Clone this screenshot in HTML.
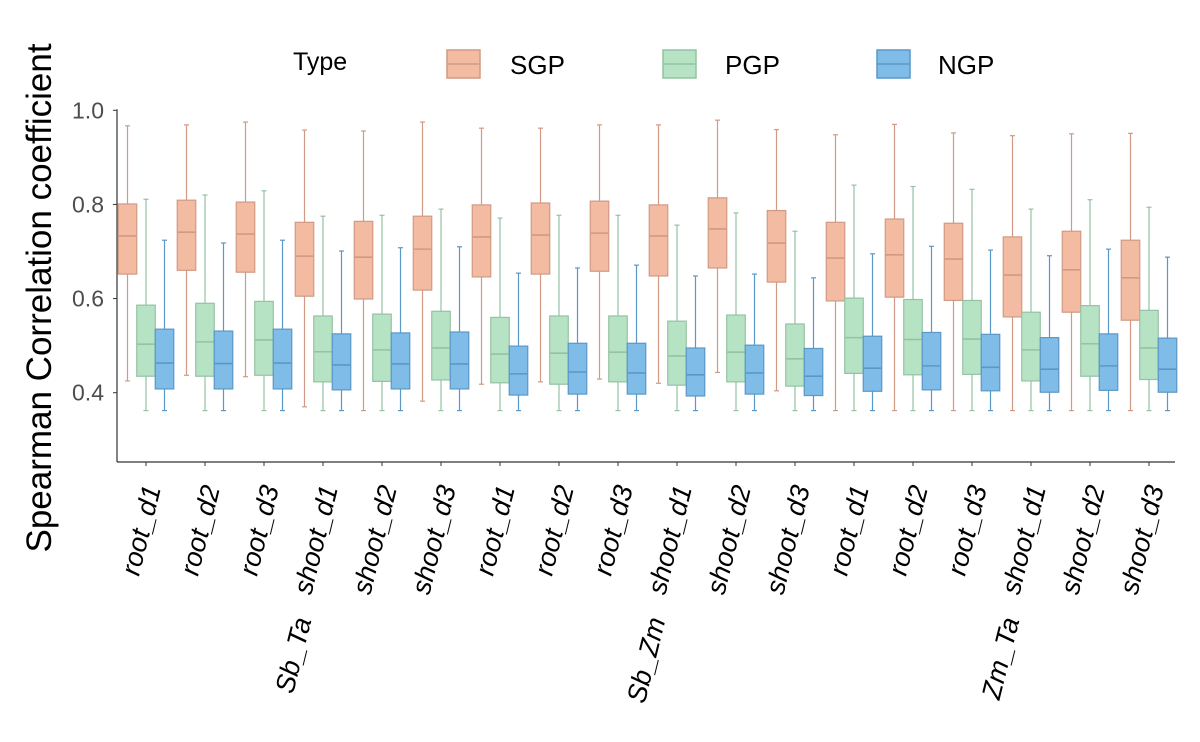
<!DOCTYPE html>
<html><head><meta charset="utf-8"><style>
html,body{margin:0;padding:0;background:#fff;}
svg{display:block;font-family:"Liberation Sans",Arial,sans-serif;}
</style></head><body>
<svg id="chart" width="1200" height="742" viewBox="0 0 1200 742">
<g id="legend">
  <text x="293" y="70" font-size="25" fill="#000">Type</text>
  <g>
    <rect x="447" y="50" width="33" height="28" fill="#f2bba2" stroke="#d09a84" stroke-width="1.5"/>
    <line x1="447" y1="64" x2="480" y2="64" stroke="#d09a84" stroke-width="1.5"/>
    <text x="510" y="74" font-size="26">SGP</text>
  </g>
  <g>
    <rect x="663" y="50" width="33" height="28" fill="#b7e3c5" stroke="#94c2a3" stroke-width="1.5"/>
    <line x1="663" y1="64" x2="696" y2="64" stroke="#94c2a3" stroke-width="1.5"/>
    <text x="725" y="74" font-size="26">PGP</text>
  </g>
  <g>
    <rect x="877" y="50" width="33" height="28" fill="#80bce8" stroke="#5a98c8" stroke-width="1.5"/>
    <line x1="877" y1="64" x2="910" y2="64" stroke="#5a98c8" stroke-width="1.5"/>
    <text x="938" y="74" font-size="26">NGP</text>
  </g>
</g>
<text transform="translate(51,298) rotate(-90)" text-anchor="middle" font-size="35" fill="#000">Spearman Correlation coefficient</text>
<g id="axes"></g>
<g id="boxes"></g>
<g id="xlabels"></g>
</svg>
<script>
const categories = ["root_d1","root_d2","root_d3","shoot_d1","shoot_d2","shoot_d3","root_d1","root_d2","root_d3","shoot_d1","shoot_d2","shoot_d3","root_d1","root_d2","root_d3","shoot_d1","shoot_d2","shoot_d3"];
const groups = ["Sb_Ta","Sb_Zm","Zm_Ta"];
const yTicks = [0.4,0.6,0.8,1.0];
const yTickLabels = ["0.4","0.6","0.8","1.0"];
// each: [low whisker, q1, median, q3, high whisker]
const sgp = [
 [0.425,0.652,0.733,0.801,0.967],[0.437,0.660,0.741,0.809,0.969],[0.434,0.656,0.737,0.805,0.975],
 [0.370,0.605,0.690,0.762,0.958],[0.362,0.599,0.688,0.764,0.956],[0.382,0.618,0.705,0.775,0.975],
 [0.418,0.646,0.731,0.799,0.962],[0.423,0.652,0.735,0.803,0.962],[0.429,0.658,0.739,0.807,0.969],
 [0.420,0.648,0.733,0.799,0.969],[0.443,0.665,0.748,0.814,0.979],[0.404,0.635,0.718,0.787,0.959],
 [0.362,0.595,0.686,0.762,0.948],[0.362,0.603,0.693,0.769,0.970],[0.362,0.596,0.684,0.760,0.952],
 [0.362,0.561,0.650,0.731,0.946],[0.362,0.571,0.661,0.743,0.950],[0.362,0.554,0.644,0.724,0.951]];
const pgp = [
 [0.362,0.435,0.503,0.586,0.811],[0.362,0.435,0.508,0.590,0.820],[0.362,0.437,0.512,0.594,0.829],
 [0.362,0.423,0.487,0.563,0.775],[0.362,0.424,0.491,0.567,0.777],[0.362,0.427,0.495,0.573,0.790],
 [0.362,0.421,0.482,0.560,0.771],[0.362,0.418,0.484,0.563,0.777],[0.362,0.423,0.486,0.563,0.777],
 [0.362,0.416,0.478,0.552,0.756],[0.362,0.423,0.486,0.565,0.782],[0.362,0.414,0.472,0.546,0.743],
 [0.362,0.441,0.517,0.601,0.841],[0.362,0.438,0.513,0.598,0.838],[0.362,0.439,0.514,0.596,0.832],
 [0.362,0.425,0.491,0.571,0.790],[0.362,0.435,0.504,0.585,0.810],[0.362,0.428,0.495,0.575,0.794]];
const ngp = [
 [0.362,0.408,0.463,0.535,0.724],[0.362,0.408,0.462,0.531,0.718],[0.362,0.408,0.463,0.535,0.724],
 [0.362,0.406,0.459,0.525,0.701],[0.362,0.408,0.461,0.527,0.708],[0.362,0.408,0.461,0.529,0.710],
 [0.362,0.395,0.440,0.499,0.654],[0.362,0.397,0.444,0.505,0.665],[0.362,0.397,0.442,0.505,0.671],
 [0.362,0.393,0.438,0.495,0.648],[0.362,0.397,0.442,0.501,0.652],[0.362,0.394,0.435,0.494,0.644],
 [0.362,0.403,0.452,0.520,0.695],[0.362,0.406,0.457,0.528,0.711],[0.362,0.404,0.454,0.524,0.703],
 [0.362,0.401,0.450,0.517,0.691],[0.362,0.405,0.457,0.525,0.705],[0.362,0.401,0.450,0.516,0.688]];

const NS="http://www.w3.org/2000/svg";
function mk(tag,attrs,parent){const e=document.createElementNS(NS,tag);for(const k in attrs)e.setAttribute(k,attrs[k]);parent.appendChild(e);return e;}
const yScale=v=>392.7-(v-0.4)*470.7;
const xScale=i=>146+59*i;
const axes=document.getElementById('axes');
const yAxis=mk('line',{x1:117,y1:yScale(1.0)-1,x2:117,y2:462,stroke:'#333','stroke-width':1.2},axes);


const xAxis=mk('line',{x1:117,y1:462,x2:1175,y2:462,stroke:'#333','stroke-width':1.2},axes);


yTicks.forEach((v,i)=>{
  const t=mk('text',{x:104,y:yScale(v)+8,'text-anchor':'end','font-size':23,fill:'#4d4d4d'},axes);
  t.textContent=yTickLabels[i];
  
  
  mk('line',{x1:113,y1:yScale(v),x2:117,y2:yScale(v),stroke:'#333','stroke-width':1},axes);
});
const boxes=document.getElementById('boxes');
const series=[{d:sgp,off:-18.5,fill:'#f2bba2',st:'#d09a84',n:'sgp'},{d:pgp,off:0,fill:'#b7e3c5',st:'#94c2a3',n:'pgp'},{d:ngp,off:18.5,fill:'#80bce8',st:'#5a98c8',n:'ngp'}];
const bw=18.5;
series.forEach(s=>{
  s.d.forEach((b,i)=>{
    const cx=xScale(i)+s.off;
    const g=mk('g',{},boxes);
    
    
    mk('line',{x1:cx,y1:yScale(b[0]),x2:cx,y2:yScale(b[4]),stroke:s.st,'stroke-width':1.2},g);
    mk('line',{x1:cx-2.5,y1:yScale(b[0]),x2:cx+2.5,y2:yScale(b[0]),stroke:s.st,'stroke-width':1.2},g);
    mk('line',{x1:cx-2.5,y1:yScale(b[4]),x2:cx+2.5,y2:yScale(b[4]),stroke:s.st,'stroke-width':1.2},g);
    mk('rect',{x:cx-bw/2,y:yScale(b[3]),width:bw,height:yScale(b[1])-yScale(b[3]),fill:s.fill,stroke:s.st,'stroke-width':1.2},g);
    mk('line',{x1:cx-bw/2,y1:yScale(b[2]),x2:cx+bw/2,y2:yScale(b[2]),stroke:s.st,'stroke-width':1.6},g);
  });
});
const xl=document.getElementById('xlabels');
categories.forEach((c,i)=>{
  const x=xScale(i);
  mk('line',{x1:x,y1:462,x2:x,y2:466,stroke:'#333','stroke-width':1},xl);
  const t=mk('text',{transform:`translate(${x+15},488) rotate(-76)`,'text-anchor':'end','font-size':27,'font-style':'italic',fill:'#000'},xl);
  t.textContent=c;
  
  
});
groups.forEach((gname,j)=>{
  const x=(xScale(j*6+2)+xScale(j*6+3))/2+18;
  const t=mk('text',{transform:`translate(${x},620) rotate(-76)`,'text-anchor':'end','font-size':27,'font-style':'italic',fill:'#000'},xl);
  t.textContent=gname;
  
  
});
</script>
</body></html>
